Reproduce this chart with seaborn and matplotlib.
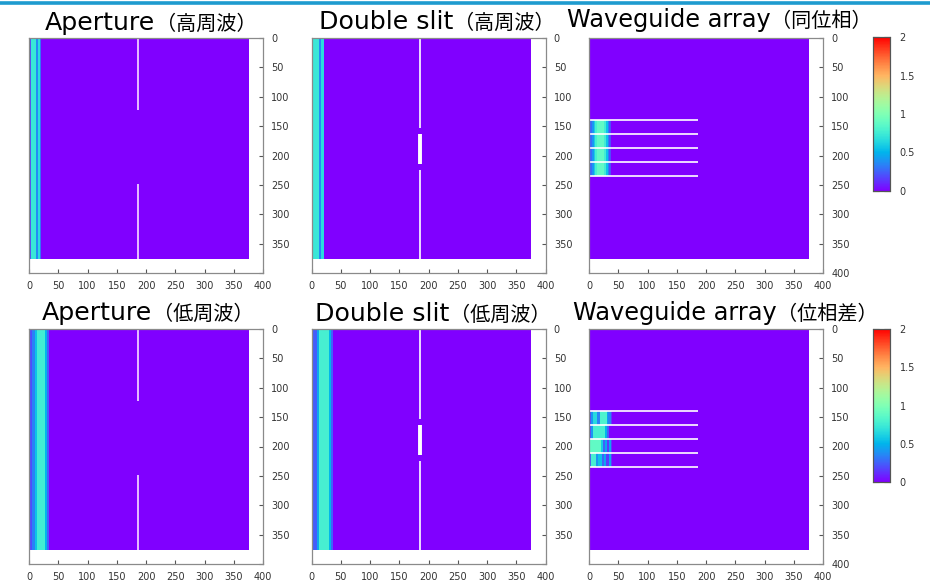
import numpy as np
import pandas as pd
import matplotlib
matplotlib.use("Agg")
import matplotlib.pyplot as plt
import seaborn as sns
from matplotlib.lines import Line2D

sns.set_theme(style="white")
plt.rcParams['font.family'] = ['DejaVu Sans', 'Noto Sans CJK JP']

# ---------------- data ----------------
GRID = 376  # simulation domain size (cells)

titles_en = ["Aperture", "Double slit", "Waveguide array",
             "Aperture", "Double slit", "Waveguide array"]
titles_jp = ["（高周波）", "（高周波）", "（同位相）",
             "（低周波）", "（低周波）", "（位相差）"]

# source field bands across x: (x_start, x_end, intensity)
aperture_high_bands = [(0, 3, 0.2), (3, 12, 0.72), (12, 15, 0.36), (15, 19, 0.66), (19, 21, 0.3)]
slit_high_bands = [(0, 3, 0.2), (3, 13, 0.72), (13, 17, 0.36), (17, 21, 0.66), (21, 22, 0.3)]
aperture_low_bands = [(0, 5, 0.2), (5, 11, 0.34), (11, 14, 0.55), (14, 28, 0.76), (28, 31, 0.5), (31, 34, 0.25)]
slit_low_bands = [(0, 9, 0.24), (9, 12, 0.45), (12, 30, 0.78), (30, 33, 0.5), (33, 36, 0.25)]

# walls
aperture_wall_x = 186
aperture_wall_segments = [(0, 122), (248, 376)]
slit_wall_x = 186
slit_wall_segments = [(0, 154), (164, 215), (224, 376)]
slit_wall_widths = [1.2, 2.8, 1.2]

# waveguide array
waveguide_y = [139, 163, 187, 211, 235]
waveguide_x_end = 186
inphase_channel_bands = [(0, 2, 0.18), (2, 5, 0.28), (5, 8, 0.4), (8, 11, 0.6), (11, 14, 0.78),
                         (14, 26, 0.88), (26, 29, 0.75), (29, 32, 0.55), (32, 35, 0.35),
                         (35, 38, 0.2)]
inphase_bands = [inphase_channel_bands] * 4
phase_bands = [
    [(0, 3, 0.2), (3, 7, 0.4), (7, 13, 0.65), (13, 18, 0.35), (18, 31, 0.8),
     (31, 33, 0.45), (33, 38, 0.35), (38, 40, 0.15)],
    [(0, 3, 0.2), (3, 7, 0.4), (7, 27, 0.78), (27, 31, 0.5), (31, 35, 0.25)],
    [(0, 2, 0.3), (2, 20, 0.88), (20, 24, 0.6), (24, 27, 0.25), (27, 30, 0.45),
     (30, 35, 0.15), (35, 38, 0.45), (38, 40, 0.15)],
    [(0, 3, 0.25), (3, 12, 0.78), (12, 16, 0.4), (16, 22, 0.55), (22, 26, 0.25),
     (26, 29, 0.45), (29, 35, 0.15), (35, 38, 0.45), (38, 40, 0.15)],
]

tick_values = [0, 50, 100, 150, 200, 250, 300, 350, 400]
cbar_ticks = [0, 0.5, 1, 1.5, 2]
cbar_labels = ["0", "0.5", "1", "1.5", "2"]


# ---------------- build fields ----------------
def column_field(bands):
    m = np.zeros((GRID, GRID))
    for x0, x1, v in bands:
        m[:, x0:x1] = v
    return pd.DataFrame(m)


def waveguide_field(channels):
    m = np.zeros((GRID, GRID))
    for k, bands in enumerate(channels):
        y0, y1 = waveguide_y[k], waveguide_y[k + 1]
        for x0, x1, v in bands:
            m[y0:y1, x0:x1] = v
    return pd.DataFrame(m)


fields = [column_field(aperture_high_bands), column_field(slit_high_bands),
          waveguide_field(inphase_bands),
          column_field(aperture_low_bands), column_field(slit_low_bands),
          waveguide_field(phase_bands)]
kinds = ["aperture", "slit", "waveguide", "aperture", "slit", "waveguide"]

# ---------------- layout (pixels) ----------------
W, H = 930, 587
fig = plt.figure(figsize=(W / 100, H / 100), dpi=100)
fig.patch.set_facecolor("white")


def px_rect(left, top, w, h):
    return [left / W, 1 - (top + h) / H, w / W, h / H]


col_left = [29, 311.5, 589]
row_top = [38, 329]
AW, AH = 234, 235
cbar_rects = [px_rect(873, 37, 17, 154), px_rect(873, 329, 17, 153)]

title_en_pos = [(45, 30), (319, 29), (567, 27), (42, 320), (315, 321), (573, 320)]
title_en_size = [18.2, 18.2, 17.3, 18.2, 18.2, 17.3]

grey = "#8a8a8a"
txt = "#333333"
en_texts = []

for i, (df, kind) in enumerate(zip(fields, kinds)):
    r, c = divmod(i, 3)
    ax = fig.add_axes(px_rect(col_left[c], row_top[r], AW, AH))
    with_cbar = (c == 2)
    cax = fig.add_axes(cbar_rects[r]) if with_cbar else None
    sns.heatmap(df, ax=ax, cmap="rainbow", vmin=0, vmax=2,
                cbar=with_cbar, cbar_ax=cax,
                xticklabels=False, yticklabels=False)
    ax.set_xlim(0, 400)
    ax.set_ylim(400, 0)
    ax.set_facecolor("white")

    if kind == "aperture":
        for y0, y1 in aperture_wall_segments:
            ax.vlines(aperture_wall_x, y0, y1, color="#efcdff", lw=1.3)
    elif kind == "slit":
        for (y0, y1), lw in zip(slit_wall_segments, slit_wall_widths):
            ax.vlines(slit_wall_x, y0, y1, color="white", lw=lw)
    else:
        ax.hlines(waveguide_y, 0, waveguide_x_end, color="white", lw=1.2)

    ax.set_xticks(tick_values)
    ax.set_xticklabels([str(t) for t in tick_values])
    ax.set_yticks(tick_values)
    ylabels = [str(t) for t in tick_values]
    if c < 2:
        ylabels[-1] = ""
    ax.set_yticklabels(ylabels)
    ax.yaxis.tick_right()
    ax.tick_params(axis="both", direction="in", length=3, width=0.8,
                   color="#555555", labelsize=7, labelcolor=txt, pad=6)
    ax.tick_params(axis="x", bottom=True, top=False, labelbottom=True, rotation=0)
    ax.tick_params(axis="y", right=True, left=False, labelright=True, labelleft=False, rotation=0)
    for sp in ax.spines.values():
        sp.set_visible(True)
        sp.set_color(grey)
        sp.set_linewidth(0.9)

    if with_cbar:
        cax.set_yticks(cbar_ticks)
        cax.set_yticklabels(cbar_labels)
        cax.yaxis.set_ticks_position("both")
        cax.tick_params(axis="y", direction="in", length=4, width=0.8,
                        color="#444444", labelsize=7, labelcolor=txt, pad=7,
                        labelleft=False, labelright=True)
        for sp in cax.spines.values():
            sp.set_visible(True)
            sp.set_color("#555555")
            sp.set_linewidth(0.8)

    ex, ey = title_en_pos[i]
    t = fig.text(ex / W, 1 - ey / H, titles_en[i], fontsize=title_en_size[i], color="black",
                 family=["DejaVu Sans"], va="baseline", ha="left")
    en_texts.append(t)

# Japanese part of each title, placed right after the English part
fig.canvas.draw()
renderer = fig.canvas.get_renderer()
for i, t in enumerate(en_texts):
    bb = t.get_window_extent(renderer)
    ey = title_en_pos[i][1]
    fig.text((bb.x1 + 0.5) / W, 1 - ey / H, titles_jp[i], fontsize=14.5, color="black",
             family=["Noto Sans CJK JP", "DejaVu Sans"], va="baseline", ha="left")

# slide header rule
fig.add_artist(Line2D([0, 1], [1 - 2.5 / H, 1 - 2.5 / H], color="#1e9bcf", lw=2.6,
                      transform=fig.transFigure))

fig.savefig("out.png", dpi=100, facecolor="white")
